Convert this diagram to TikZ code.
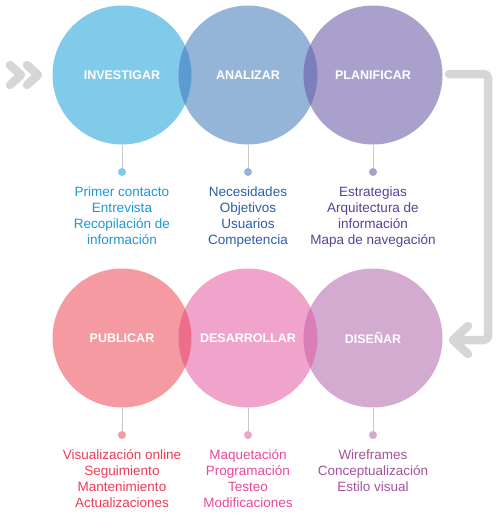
\documentclass[tikz,border=0pt]{standalone}
\usepackage{fontspec}
\setmainfont{Liberation Sans}
\usetikzlibrary{positioning}

\definecolor{invfill}{HTML}{80CBEA}
\definecolor{anafill}{HTML}{94B4D8}
\definecolor{plafill}{HTML}{AAA0CC}
\definecolor{pubfill}{HTML}{F49AA0}
\definecolor{desfill}{HTML}{F0A4CB}
\definecolor{disfill}{HTML}{D3AAD0}
\definecolor{invtext}{HTML}{1E96D4}
\definecolor{anatext}{HTML}{2C5EA8}
\definecolor{platext}{HTML}{5A3F96}
\definecolor{pubtext}{HTML}{EE3B52}
\definecolor{destext}{HTML}{E6489B}
\definecolor{distext}{HTML}{A5509C}
\definecolor{lensia}{HTML}{5C9BD0}
\definecolor{lensap}{HTML}{7B7FBE}
\definecolor{lenspd}{HTML}{EC6E8A}
\definecolor{lensdd}{HTML}{DA7EB8}
\definecolor{flowgray}{HTML}{D5D6D8}
\definecolor{stemgray}{HTML}{C8C8C8}

\tikzset{
  phase/.style={circle,minimum size=139pt,inner sep=0pt,fill=#1},
  phasetitle/.style={text=white,font={\fontsize{12.5}{14}\selectfont\bfseries}},
  stemdot/.style={circle,minimum size=8pt,inner sep=0pt,fill=#1},
  tasks/.style={align=center,inner sep=0pt,text=#1,
    font={\fontsize{13.5}{16.3}\selectfont}},
  stem/.style={draw=stemgray,line width=1pt},
  flowline/.style={draw=flowgray,line width=8.5pt,line cap=round,line join=round},
}

\begin{document}
\begin{tikzpicture}[x=1pt,y=-1pt]

  \useasboundingbox (0,0) rectangle (500,523);

  % top row
  \node[phase=invfill] (inv) at (122,75) {};
  \node[phase=anafill] (ana) at (248,75) {};
  \node[phase=plafill] (pla) at (373,75) {};

  % bottom row
  \node[phase=pubfill] (pub) at (122,338) {};
  \node[phase=desfill] (des) at (248,338) {};
  \node[phase=disfill] (dis) at (373,338) {};

  % overlaps
  \begin{scope}
    \clip (inv.center) circle (69.5pt);
    \fill[lensia] (ana.center) circle (69.5pt);
  \end{scope}
  \begin{scope}
    \clip (ana.center) circle (69.5pt);
    \fill[lensap] (pla.center) circle (69.5pt);
  \end{scope}
  \begin{scope}
    \clip (pub.center) circle (69.5pt);
    \fill[lenspd] (des.center) circle (69.5pt);
  \end{scope}
  \begin{scope}
    \clip (des.center) circle (69.5pt);
    \fill[lensdd] (dis.center) circle (69.5pt);
  \end{scope}

  % titles
  \foreach \n/\t in {inv/INVESTIGAR,ana/ANALIZAR,pla/PLANIFICAR,
                     pub/PUBLICAR,des/DESARROLLAR,dis/DISEÑAR}
    \node[phasetitle] (\n title) at (\n.center) {\t};

  % dots
  \node[stemdot=invfill] (invdot) at (122,172) {};
  \node[stemdot=anafill] (anadot) at (248,172) {};
  \node[stemdot=plafill] (pladot) at (373,172) {};
  \node[stemdot=pubfill] (pubdot) at (122,435) {};
  \node[stemdot=desfill] (desdot) at (248,435) {};
  \node[stemdot=disfill] (disdot) at (373,435) {};

  \foreach \n in {inv,ana,pla,pub,des,dis}
    \draw[stem] (\n.south) -- (\n dot.north);

  % lists
  \node[tasks=invtext,below=8.2pt of invdot] (invlist)
    {\strut Primer contacto\\Entrevista\\Recopilación de\\información};
  \node[tasks=anatext,below=8.2pt of anadot] (analist)
    {\strut Necesidades\\Objetivos\\Usuarios\\Competencia};
  \node[tasks=platext,below=8.2pt of pladot] (plalist)
    {\strut Estrategias\\Arquitectura de\\información\\Mapa de navegación};
  \node[tasks=pubtext,below=8.2pt of pubdot] (publist)
    {\strut Visualización online\\Seguimiento\\Mantenimiento\\Actualizaciones};
  \node[tasks=destext,below=8.2pt of desdot] (deslist)
    {\strut Maquetación\\Programación\\Testeo\\Modificaciones};
  \node[tasks=distext,below=8.2pt of disdot] (dislist)
    {\strut Wireframes\\Conceptualización\\Estilo visual};

  % flow arrows
  \coordinate (flowout) at (449,74);
  \coordinate (flowturn) at (488,74);
  \coordinate (flowin) at (453,340);
  \draw[flowline,rounded corners=4pt] (flowout) -- (flowturn) |- (flowin);
  \draw[flowline] ([shift={(15,-14)}]flowin) -- (flowin) -- ([shift={(15,14)}]flowin);

  \coordinate (startA) at (21,75);
  \coordinate (startB) at (38,75);
  \draw[flowline] ([shift={(-11,-10)}]startA) -- (startA) -- ([shift={(-11,10)}]startA);
  \draw[flowline] ([shift={(-11,-10)}]startB) -- (startB) -- ([shift={(-11,10)}]startB);

\end{tikzpicture}
\end{document}
